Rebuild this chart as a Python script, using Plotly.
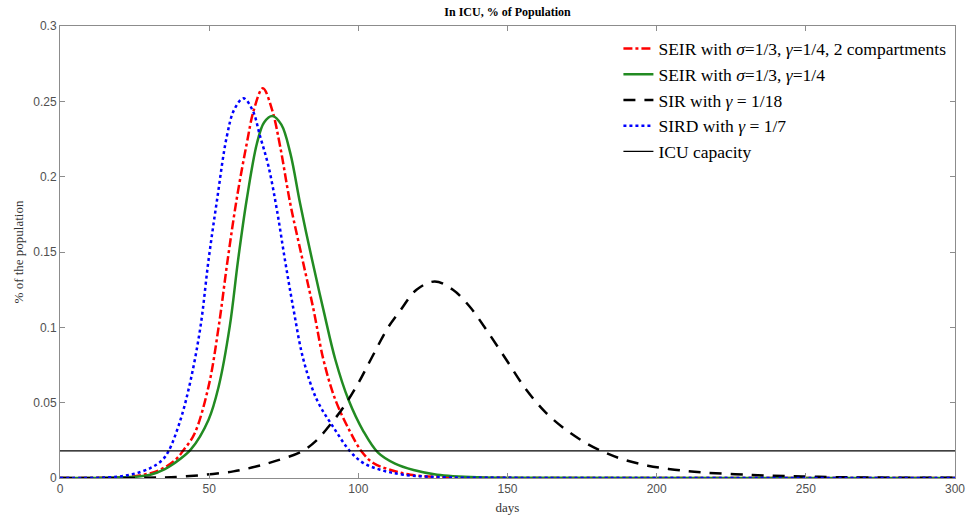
import plotly.graph_objects as go

# values (day, share of population in ICU)
seir2_days = [0, 15, 25, 33, 38.7, 41.5, 45.0, 49.8, 53.2, 56.2, 59.3, 62.6, 65.0, 68.0,
              71.1, 73.8, 77.2, 81.3, 85.0, 88.3, 92.3, 97.3, 101.1, 105.0, 110.6, 117.4, 130, 150, 300]
seir2_vals = [0, 0.0002, 0.0012, 0.005, 0.0121, 0.0188, 0.029, 0.0608, 0.1006, 0.1448, 0.186, 0.222, 0.2445, 0.2587,
              0.2443, 0.22, 0.182, 0.1448, 0.1116, 0.0785, 0.0519, 0.0305, 0.0176, 0.0099, 0.0055, 0.0022, 0.0005, 0.0001, 0]

seir_days = [0, 15, 25, 30.3, 35, 38.1, 43.8, 49.8, 53.2, 56.9, 59.7, 62.6, 66.0, 68.4, 71.2,
             74.2, 77.2, 80.5, 84.5, 88.3, 92.3, 96.7, 101.7, 106.6, 112.3, 118.5, 126.4, 140, 160, 300]
seir_vals = [0, 0.0001, 0.0008, 0.0022, 0.0058, 0.0095, 0.0188, 0.0387, 0.0608, 0.1006, 0.1448, 0.185, 0.222, 0.236, 0.2403,
             0.2345, 0.2156, 0.182, 0.1448, 0.1116, 0.0785, 0.0519, 0.031, 0.0168, 0.0095, 0.0053, 0.0022, 0.0005, 0.0001, 0]

sir_days = [0, 27, 41.4, 58.1, 66, 72.6, 81.0, 86, 90, 95, 100, 104, 110, 114, 119.5, 125.6,
            131.7, 137.3, 142.9, 149.6, 156.3, 163.0, 169.6, 176.3, 183.0, 189, 197, 206, 215.3, 232, 248.8, 265, 300]
sir_vals = [0, 0.0001, 0.001, 0.0044, 0.0078, 0.0115, 0.0176, 0.025, 0.034, 0.047, 0.063, 0.078, 0.1, 0.111, 0.1249, 0.1304,
            0.1249, 0.1138, 0.0984, 0.0785, 0.0586, 0.0431, 0.032, 0.0232, 0.0166, 0.0122, 0.0082, 0.0055, 0.0037, 0.002, 0.001, 0.0004, 0.0001]

sird_days = [0, 15, 23.6, 30.3, 34.2, 36.4, 40.4, 43.8, 47.1, 49.8, 52.6, 55.9, 58.4, 61.5,
             64.5, 67.1, 69.9, 72.7, 75.4, 78.3, 81.6, 86.1, 91.7, 97.3, 101.7, 107.3, 115, 130, 150, 300]
sird_vals = [0, 0.0003, 0.0022, 0.0066, 0.0118, 0.0178, 0.0387, 0.065, 0.1006, 0.1448, 0.184, 0.2266, 0.2445, 0.252,
             0.2443, 0.2266, 0.2067, 0.178, 0.1448, 0.1116, 0.0785, 0.0519, 0.0335, 0.0176, 0.0099, 0.0055, 0.0022, 0.0004, 0.0001, 0]

icu_days = [0, 300]
icu_capacity = [0.018, 0.018]

names = [
    "SEIR with <i>σ</i>=1/3, <i>γ</i>=1/4, 2 compartments",
    "SEIR with <i>σ</i>=1/3, <i>γ</i>=1/4",
    "SIR with <i>γ</i> = 1/18",
    "SIRD with <i>γ</i> = 1/7",
    "ICU capacity",
]

fig = go.Figure()
fig.add_trace(go.Scatter(x=seir2_days, y=seir2_vals, name=names[0], mode="lines", line_shape="spline",
                         line=dict(color="#ff0000", width=2.5, dash="dashdot")))
fig.add_trace(go.Scatter(x=seir_days, y=seir_vals, name=names[1], mode="lines", line_shape="spline",
                         line=dict(color="#228b22", width=2.5)))
fig.add_trace(go.Scatter(x=sir_days, y=sir_vals, name=names[2], mode="lines", line_shape="spline",
                         line=dict(color="#000000", width=2.5, dash="12px,9px")))
fig.add_trace(go.Scatter(x=sird_days, y=sird_vals, name=names[3], mode="lines", line_shape="spline",
                         line=dict(color="#0000ff", width=2.5, dash="dot")))
fig.add_trace(go.Scatter(x=icu_days, y=icu_capacity, name=names[4], mode="lines",
                         line=dict(color="#000000", width=1.2)))

axis_common = dict(showline=True, linecolor="#8c8c8c", linewidth=1, mirror="ticks", automargin=False,
                   ticks="inside", ticklen=5, tickcolor="#8c8c8c", showgrid=False, zeroline=False,
                   tickfont=dict(family="Liberation Sans, Arial", size=12, color="#505050"))

fig.update_layout(
    width=974, height=519,
    margin=dict(l=60, r=19, t=26, b=41),
    plot_bgcolor="white", paper_bgcolor="white",
    title=dict(text="<b>In ICU, % of Population</b>", x=0.5, xref="paper", y=0.977, yanchor="middle",
               font=dict(family="Liberation Serif, serif", size=12, color="black")),
    xaxis=dict(range=[0, 300], tickvals=[0, 50, 100, 150, 200, 250, 300],
               title=dict(text="days", standoff=7, font=dict(family="Liberation Serif, serif", size=13, color="#333")),
               **axis_common),
    yaxis=dict(range=[0, 0.3], tickvals=[0, 0.05, 0.1, 0.15, 0.2, 0.25, 0.3],
               ticktext=["0", "0.05", "0.1", "0.15", "0.2", "0.25", "0.3"],
               title=dict(text="% of the population", standoff=6, font=dict(family="Liberation Serif, serif", size=13, color="#333")),
               **axis_common),
    legend=dict(x=0.996, y=0.99, xanchor="right", yanchor="top", bgcolor="rgba(255,255,255,0)",
                font=dict(family="Liberation Serif, serif", size=17.5, color="black"), tracegroupgap=0,
                itemwidth=30),
    showlegend=True,
)

# drop the default page margin so the figure sits at the window origin
fig.write_html("out.html", config={"displayModeBar": False},
               post_script="document.body.style.margin='0';")
